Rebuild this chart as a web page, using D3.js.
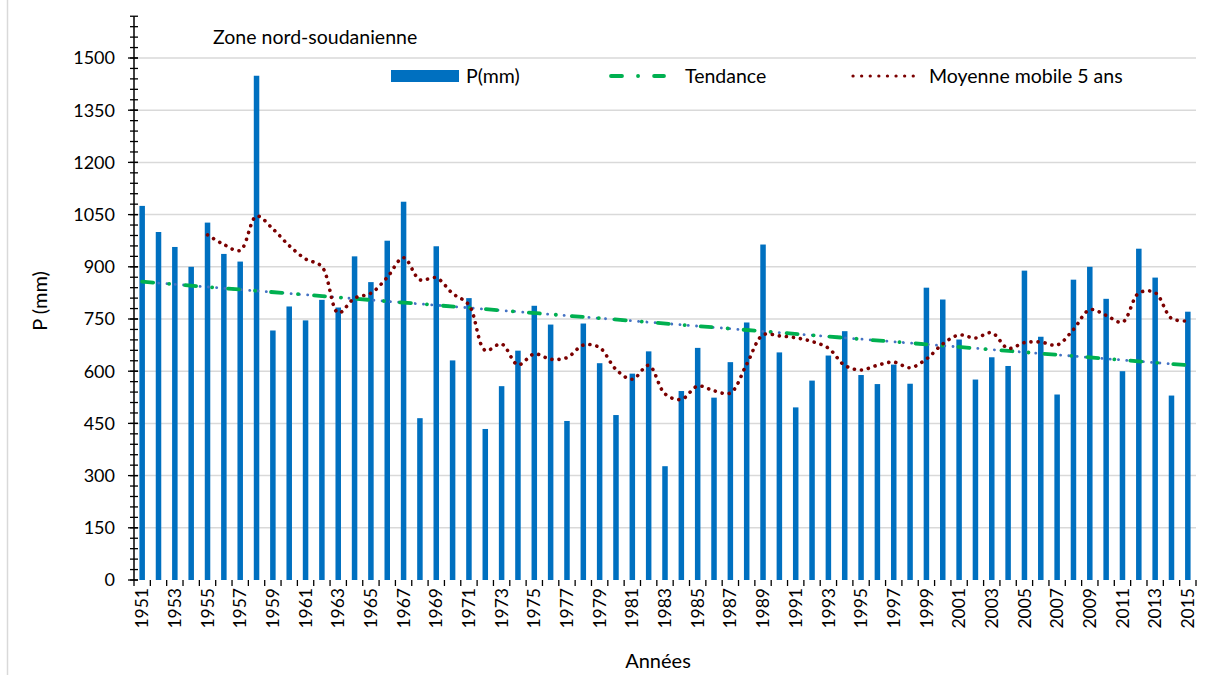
<!DOCTYPE html>
<html><head><meta charset="utf-8">
<script src="https://cdn.jsdelivr.net/npm/d3@7"></script>
<style>
html,body{margin:0;padding:0;background:#fff;}
svg{display:block;font-family:Lato,"Open Sans",sans-serif;}
</style></head>
<body>
<svg id="chart" width="1213" height="675"></svg>
<script>
const years = d3.range(1951, 2016);
const precip = [1075,1000,957,900,1027,937,915,1449,717,786,
                746,805,783,930,856,975,1087,465,959,631,
                810,434,557,659,788,734,457,737,623,474,
                593,657,327,543,667,524,626,740,964,654,
                496,573,645,715,589,563,619,564,840,806,
                691,576,640,615,889,699,533,863,900,808,
                600,952,869,530,771];
const yTicks = [0,150,300,450,600,750,900,1050,1200,1350,1500];
const xLabelYears = years.filter((y,i)=>i%2===0);
const titleText = "Zone nord-soudanienne";
const legendLabels = ["P(mm)","Tendance","Moyenne mobile 5 ans"];

const svg = d3.select("#chart");
const W = 1213, H = 675;
const L = 134, R = 1196, B = 580, T = 58;

// frame
svg.append("line").attr("x1",7.5).attr("x2",7.5).attr("y1",0).attr("y2",H)
  .attr("stroke","#d9d9d9").attr("stroke-width",1.5);

const x = d3.scaleBand().domain(years).range([L,R]).paddingInner(0.663).paddingOuter(0.3315);
const y = d3.scaleLinear().domain([0,1500]).range([B,T]);
const step = x.step();
const cx = d => x(d) + x.bandwidth()/2;

// gridlines
svg.append("g").selectAll("line").data(yTicks.filter(v=>v>0)).join("line")
  .attr("x1",L).attr("x2",R).attr("y1",d=>y(d)).attr("y2",d=>y(d))
  .attr("stroke","#d9d9d9").attr("stroke-width",1.5);

// bars
svg.append("g").selectAll("rect").data(years).join("rect")
  .attr("x",d=>x(d)).attr("width",x.bandwidth())
  .attr("y",(d,i)=>y(precip[i])).attr("height",(d,i)=>B-y(precip[i]))
  .attr("fill","#0070C0");

// trend (least squares)
const mx = d3.mean(years), my = d3.mean(precip);
const slope = d3.sum(years,(yr,i)=>(yr-mx)*(precip[i]-my))/d3.sum(years,yr=>(yr-mx)*(yr-mx));
const icpt = my - slope*mx;
const trendPts = [years[0], years[years.length-1]].map(yr=>[yr, icpt+slope*yr]);
const line = d3.line().x(d=>cx(d[0])).y(d=>y(d[1]));
svg.append("path").attr("d",line(trendPts)).attr("fill","none")
  .attr("stroke","#4472C4").attr("stroke-width",2.8).attr("stroke-linecap","round")
  .attr("stroke-dasharray","0.1,8.2");
svg.append("path").attr("d",line(trendPts)).attr("fill","none")
  .attr("stroke","#00B050").attr("stroke-width",3.8).attr("stroke-linecap","round")
  .attr("stroke-dasharray","11,16,0.1,16");

// moving average (5 years)
const ma = years.slice(4).map((yr,k)=>[yr, d3.mean(precip.slice(k,k+5))]);
const maLine = d3.line().x(d=>cx(d[0])).y(d=>y(d[1])).curve(d3.curveCatmullRom.alpha(0.5));
svg.append("path").attr("d",maLine(ma)).attr("fill","none")
  .attr("stroke","#7B0000").attr("stroke-width",3.6).attr("stroke-linecap","round")
  .attr("stroke-dasharray","0.1,7");

// y axis
const yMinor = d3.range(0, 1621, 30);
const gy = svg.append("g");
gy.append("line").attr("x1",L).attr("x2",L).attr("y1",y(1620)).attr("y2",B)
  .attr("stroke","#000").attr("stroke-width",1.5);
gy.selectAll("line.mt").data(yMinor).join("line").attr("class","mt")
  .attr("x1",L-4).attr("x2",L+4).attr("y1",d=>y(d)).attr("y2",d=>y(d))
  .attr("stroke","#000").attr("stroke-width",1.3);
gy.selectAll("line.Mt").data(yTicks).join("line").attr("class","Mt")
  .attr("x1",L-6).attr("x2",L+4).attr("y1",d=>y(d)).attr("y2",d=>y(d))
  .attr("stroke","#000").attr("stroke-width",1.3);
gy.selectAll("text").data(yTicks).join("text")
  .attr("x",L-19).attr("y",d=>y(d)).attr("dy","0.35em")
  .attr("text-anchor","end").attr("font-size",18).attr("fill","#000").text(d=>d);

// x axis
const gx = svg.append("g");
gx.append("line").attr("x1",L).attr("x2",R).attr("y1",B).attr("y2",B)
  .attr("stroke","#000").attr("stroke-width",1.5);
gx.selectAll("line").data(d3.range(years.length+1)).join("line")
  .attr("x1",i=>L+i*step).attr("x2",i=>L+i*step).attr("y1",B).attr("y2",B+6)
  .attr("stroke","#000").attr("stroke-width",1.3);
gx.selectAll("text").data(xLabelYears).join("text")
  .attr("transform",d=>`translate(${cx(d)},${B+8}) rotate(-90)`)
  .attr("dy","0.35em").attr("text-anchor","end").attr("font-size",17.5).attr("fill","#000")
  .text(d=>d);

// axis titles
svg.append("text").attr("transform","translate(40,301) rotate(-90)")
  .attr("text-anchor","middle").attr("dy","0.35em").attr("font-size",20).text("P (mm)");
svg.append("text").attr("x",658).attr("y",668).attr("text-anchor","middle")
  .attr("font-size",20).text("Années");

// title
svg.append("text").attr("x",213).attr("y",44).attr("font-size",19.5).text(titleText);

// legend
const lg = svg.append("g");
lg.append("rect").attr("x",391).attr("y",70).attr("width",68).attr("height",12).attr("fill","#0070C0");
lg.append("text").attr("x",466).attr("y",83).attr("font-size",19.5).text(legendLabels[0]);
lg.append("line").attr("x1",611).attr("x2",664).attr("y1",76).attr("y2",76)
  .attr("stroke","#00B050").attr("stroke-width",3.8).attr("stroke-linecap","round")
  .attr("stroke-dasharray","11,16,0.1,16");
lg.append("text").attr("x",685).attr("y",83).attr("font-size",19.5).text(legendLabels[1]);
lg.append("line").attr("x1",853).attr("x2",921).attr("y1",76).attr("y2",76)
  .attr("stroke","#7B0000").attr("stroke-width",3.2).attr("stroke-linecap","round")
  .attr("stroke-dasharray","0.1,8.5");
lg.append("text").attr("x",929).attr("y",83).attr("font-size",19.5).text(legendLabels[2]);
</script>
</body></html>
